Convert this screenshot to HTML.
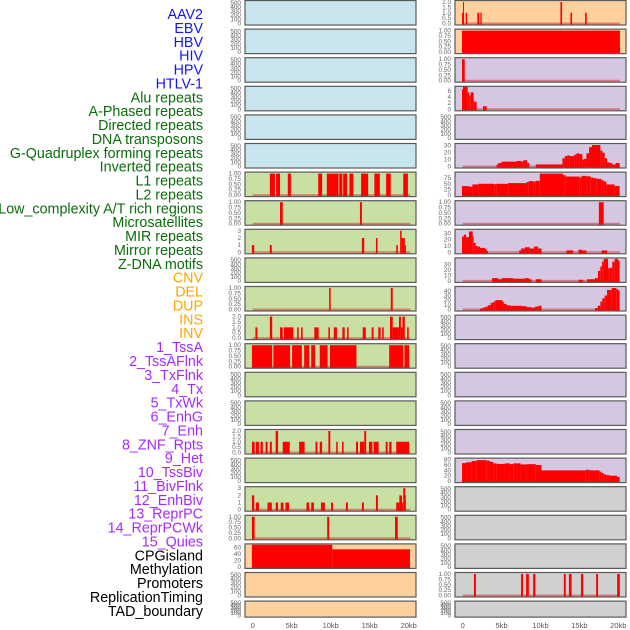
<!DOCTYPE html>
<html><head><meta charset="utf-8"><style>
html,body{margin:0;padding:0;background:#fff;}
svg{display:block;font-family:"Liberation Sans",sans-serif;}
</style></head><body>
<svg id="chart" width="630" height="630" viewBox="0 0 630 630"></svg>
<script>
const labelNames=["AAV2","EBV","HBV","HIV","HPV","HTLV-1","Alu repeats","A-Phased repeats","Directed repeats","DNA transposons","G-Quadruplex forming repeats","Inverted repeats","L1 repeats","L2 repeats","Low_complexity A/T rich regions","Microsatellites","MIR repeats","Mirror repeats","Z-DNA motifs","CNV","DEL","DUP","INS","INV","1_TssA","2_TssAFlnk","3_TxFlnk","4_Tx","5_TxWk","6_EnhG","7_Enh","8_ZNF_Rpts","9_Het","10_TssBiv","11_BivFlnk","12_EnhBiv","13_ReprPC","14_ReprPCWk","15_Quies","CPGisland","Methylation","Promoters","ReplicationTiming","TAD_boundary"];
const labelGroups=[6,13,5,15,5];
const groupColors=["#1414ff","#0a6e0a","#ffa500","#a52aff","#000000"];
const xTicks=[0,5,10,15,20];
const xTickLabels=["0","5kb","10kb","15kb","20kb"];

// left column data [startKb,endKb,value]
const leftL1=[[2.2,2.85,1],[3.0,3.5,1],[4.5,4.9,1],[8.4,8.9,1],[9.5,11.0,1],[11.1,11.5,1],[11.6,12.1,1],[12.4,12.9,1],[13.9,14.8,1],[15.6,16.3,1],[17.1,17.7,1],[19.3,19.9,1]];
const leftLowComp=[[3.5,3.85,1],[13.75,14.0,1]];
const leftMIR=[[-0.1,0.2,1],[2.2,2.45,1],[14.0,14.3,2],[15.8,16.0,2],[18.4,18.6,1],[18.9,19.1,3],[19.1,19.5,2],[19.5,19.65,1]];
const leftCNV=[[9.8,10.0,1],[17.7,17.95,1]];
const leftINS=[[0.35,0.6,1],[2.2,2.5,2],[3.5,3.85,1],[4.0,5.2,1],[5.7,5.9,1],[6.2,6.4,1],[7.9,8.45,1],[9.7,9.9,1],[10.4,10.8,1],[11.5,11.8,1],[12.1,12.3,1],[14.1,14.5,1],[15.25,15.5,1],[16.1,16.4,1],[16.6,16.8,1],[17.6,17.95,2],[17.95,18.75,1],[18.75,19.0,2],[19.0,19.2,1],[19.2,19.5,2],[19.8,20.0,1]];
const leftTssA=[[-0.1,2.5,1],[2.65,4.8,1],[5.05,6.3,1],[6.6,7.25,1],[7.5,8.0,1],[8.6,9.6,1],[9.9,13.3,1],[17.5,19.3,1],[19.45,20.05,1]];
const leftEnhG=[[-0.1,0.25,1],[0.4,0.8,1],[1.0,1.3,1],[1.65,1.9,1],[2.2,2.45,1],[2.95,3.25,2],[3.85,4.75,1],[5.95,6.65,1],[8.05,8.3,1],[8.6,8.9,1],[9.7,9.95,2],[10.7,10.9,1],[11.45,11.65,1],[13.25,13.5,1],[13.75,14.3,1],[14.3,14.55,2],[14.9,15.35,1],[15.5,16.15,1],[17.05,17.3,1],[17.5,17.8,1],[18.4,20.05,1]];
const leftTssBiv=[[-0.1,0.2,2],[0.4,0.8,1],[1.9,2.2,1],[2.2,2.45,1],[2.95,3.25,1],[3.6,3.95,1],[4.2,4.65,1],[6.9,7.25,1],[7.5,7.85,1],[8.75,9.25,1],[10.05,10.3,1],[11.95,12.2,1],[14.0,14.25,1],[15.8,16.05,2],[18.4,18.8,1],[18.8,19.15,2],[19.15,19.3,1],[19.3,19.55,3],[19.55,19.65,2]];
const leftReprPC=[[-0.1,0.25,1],[9.55,9.8,1],[18.25,18.6,1]];
const leftCpG=[[-0.1,10.2,68],[10.2,20.17,54]];
// right column data
const rightAAV=[[-0.09,0.04,1],[0.04,0.17,2],[0.39,0.56,1],[1.88,2.14,1],[2.27,2.44,1],[12.56,12.77,2],[13.85,14.06,1],[15.73,15.94,1]];
const rightEBV=[[-0.09,20.21,1]];
const rightHBV=[[-0.09,0.26,1]];
const rightHIV=[[-0.09,0.04,6.5],[0.04,0.64,7.5],[0.64,0.85,5.5],[0.85,1.03,4.5],[1.03,1.41,5.5],[1.41,1.79,2.5],[2.61,3.08,1]];
const rightGQuad=[[4.36,4.57,3],[4.57,5.0,5],[5.0,6.92,7],[6.92,7.56,8],[7.56,7.78,7],[7.78,8.29,9],[8.29,8.55,5],[9.4,12.82,3],[12.82,13.12,12],[13.12,13.42,15],[13.42,13.76,16],[13.76,14.32,15],[14.32,14.62,17],[14.62,14.96,19],[14.96,15.38,18],[15.38,15.6,10],[15.6,15.9,11],[15.9,16.24,19],[16.24,16.62,28],[16.62,17.69,31],[17.69,17.95,23],[17.95,18.25,20],[18.25,18.55,12],[18.55,18.89,6],[18.89,19.23,5],[19.23,19.66,3],[19.66,20.17,5]];
const rightL1=[[-0.09,0.81,40],[0.81,1.24,37],[1.24,2.01,47],[2.01,4.06,50],[4.06,4.36,48],[4.36,5.85,50],[5.85,8.21,53],[8.21,8.5,58],[8.5,9.06,62],[9.06,9.4,60],[9.4,9.91,63],[9.91,12.9,95],[12.9,13.25,88],[13.25,15.04,82],[15.04,15.26,78],[15.26,15.9,85],[15.9,16.45,83],[16.45,16.75,78],[16.75,17.18,75],[17.18,17.82,72],[17.82,18.12,66],[18.12,18.46,60],[18.46,19.53,47],[19.53,20.17,40]];
const rightLowComp=[[17.5,18.12,1]];
const rightMIR=[[-0.09,0.17,25],[0.17,0.43,28],[0.43,0.81,24],[0.81,1.28,33],[1.28,1.41,25],[1.41,1.67,15],[1.67,1.92,10],[1.92,2.22,9],[2.22,2.86,7],[2.86,3.08,5],[3.08,3.25,2],[7.26,7.52,3],[7.52,7.99,6],[7.99,8.63,8],[8.63,9.15,6],[9.15,9.7,9],[9.7,10.13,6],[13.33,14.19,3],[14.87,15.38,4],[15.38,15.9,3],[17.86,18.55,3]];
const rightMirror=[[3.76,4.57,5],[4.57,5.0,3],[5.0,6.5,5],[6.5,7.99,4],[7.99,8.55,5],[8.55,8.85,3],[9.4,10.13,3],[14.91,15.47,2],[15.98,16.97,3],[16.97,17.39,5],[17.39,17.69,18],[17.69,17.91,26],[17.91,18.12,35],[18.12,18.68,40],[18.68,18.89,23],[18.89,19.23,24],[19.23,19.53,35],[19.53,19.96,40],[19.96,20.17,37]];
const rightZDNA=[[2.22,2.56,2],[2.56,2.91,4],[2.91,3.21,6],[3.21,3.59,9],[3.59,3.93,14],[3.93,4.19,17],[4.19,5.13,20],[5.13,5.3,16],[5.3,5.64,12],[5.64,6.07,9],[6.07,7.56,8],[7.56,8.21,7],[8.21,8.85,5],[8.85,9.27,4],[9.27,9.7,6],[9.7,10.13,8],[17.01,17.35,3],[17.35,17.69,8],[17.69,17.95,17],[17.95,18.25,24],[18.25,18.55,30],[18.55,19.15,42],[19.15,19.74,46],[19.74,19.96,44],[19.96,20.17,41]];
const rightHet=[[-0.09,0.43,67],[0.43,1.15,70],[1.15,1.79,75],[1.79,3.08,78],[3.08,3.5,76],[3.5,3.93,72],[3.93,4.36,66],[4.36,5.43,64],[5.43,6.07,66],[6.07,6.5,63],[6.5,7.44,66],[7.44,8.21,62],[8.21,9.4,63],[9.4,10.13,60],[10.13,15.81,40],[15.81,16.32,42],[16.32,17.61,40],[17.61,17.86,35],[17.86,18.12,30],[18.12,18.46,25],[18.46,18.89,22],[18.89,19.83,20],[19.83,20.17,16]];
const rightPromoters=[[1.45,1.7,1],[7.5,7.75,1],[8.15,8.5,1],[9.05,9.35,1],[13.0,13.25,1],[13.65,14.0,1],[15.2,15.5,1],[17.15,17.4,1],[19.85,20.2,1]];

const EMPTY={ymax:520,ticks:[0,100,200,300,400,500],labels:["0","100","200","300","400","500"]};
const BIN={ymax:1,ticks:[0,0.25,0.5,0.75,1],labels:["0.00","0.25","0.50","0.75","1.00"]};
const BG={b:"#c8e4ec",g:"#c8e0a4",o:"#fdd09d",l:"#d5c7e2",k:"#d0d0d0"};
const leftCol=["b","b","b","b","b","b","g","g","g","g","g","g","g","g","g","g","g","g","g","o","o","o"];
const rightCol=["o","o","l","l","l","l","l","l","l","l","l","l","l","l","l","l","l","k","k","k","k","k"];
const leftData={6:[leftL1,BIN],7:[leftLowComp,BIN],8:[leftMIR,{ymax:3,ticks:[0,1,2,3],labels:["0","1","2","3"]}],10:[leftCNV,BIN],11:[leftINS,{ymax:2,ticks:[0,0.5,1,1.5,2],labels:["0.0","0.5","1.0","1.5","2.0"]}],12:[leftTssA,BIN],15:[leftEnhG,{ymax:2,ticks:[0,0.5,1,1.5,2],labels:["0.0","0.5","1.0","1.5","2.0"]}],17:[leftTssBiv,{ymax:3,ticks:[0,1,2,3],labels:["0","1","2","3"]}],18:[leftReprPC,BIN],19:[leftCpG,{ymax:66,ticks:[0,20,40,60],labels:["0","20","40","60"]}]};
const rightData={0:[rightAAV,{ymax:2,ticks:[0,0.5,1,1.5,2],labels:["0.0","0.5","1.0","1.5","2.0"]}],1:[rightEBV,BIN],2:[rightHBV,BIN],3:[rightHIV,{ymax:7,ticks:[0,2,4,6],labels:["0","2","4","6"]}],5:[rightGQuad,{ymax:31,ticks:[0,10,20,30],labels:["0","10","20","30"]}],6:[rightL1,{ymax:95,ticks:[0,25,50,75],labels:["0","25","50","75"]}],7:[rightLowComp,BIN],8:[rightMIR,{ymax:34,ticks:[0,10,20,30],labels:["0","10","20","30"]}],9:[rightMirror,{ymax:39,ticks:[0,10,20,30],labels:["0","10","20","30"]}],10:[rightZDNA,{ymax:46,ticks:[0,10,20,30,40],labels:["0","10","20","30","40"]}],16:[rightHet,{ymax:80,ticks:[0,20,40,60,80],labels:["0","20","40","60","80"]}],20:[rightPromoters,BIN]};

const NS="http://www.w3.org/2000/svg";
const svg=document.getElementById("chart");
function mk(tag,attrs,parent){const e=document.createElementNS(NS,tag);for(const k in attrs)e.setAttribute(k,attrs[k]);(parent||svg).appendChild(e);return e;}

// row labels
let li=0;
labelGroups.forEach((n,gi)=>{for(let k=0;k<n;k++){const t=mk("text",{x:203,y:14+li*13.88+5,"text-anchor":"end","font-size":"14.3",fill:groupColors[gi]});


t.textContent=labelNames[li];li++;}});

function rowGeom(i){const top=i*28.6+0.5;const h=(i===21)?16:24.5;return {top,h};}
function drawColumn(x0,x1,zeroX,pxPerKb,cols,dataMap,side){
  const xs=kb=>zeroX+kb*pxPerKb;
  for(let i=0;i<22;i++){
    const {top,h}=rowGeom(i);
    const g=mk("g",{});
    
    
    mk("rect",{x:x0,y:top,width:x1-x0,height:h,fill:BG[cols[i]]},g);
    const d=dataMap[i];const sc=d?d[1]:EMPTY;
    const bot=top+h-1.5;const inner=h-3;
    const ys=v=>bot-v/sc.ymax*inner;
    const cid="c"+side+i;
    const cp=mk("clipPath",{id:cid},g);mk("rect",{x:x0,y:top,width:x1-x0,height:h},cp);
    if(d){
      mk("line",{x1:xs(0),x2:xs(20.2),y1:bot,y2:bot,stroke:"rgba(210,0,0,0.4)","stroke-width":2},g);
      const bg=mk("g",{"clip-path":"url(#"+cid+")"},g);
      d[0].forEach(b=>{const r=mk("rect",{x:xs(b[0]),y:ys(b[2]),width:Math.max(0.8,xs(b[1])-xs(b[0])),height:bot-ys(b[2])+1.5,fill:"#ff0000"},bg);
        
        });
    }
    mk("rect",{x:x0,y:top,width:x1-x0,height:h,fill:"none",stroke:"#5a5a5a","stroke-width":1.2},g);
    sc.ticks.forEach((tv,ti)=>{const t=mk("text",{x:x0-4,y:ys(tv)+2,"text-anchor":"end","font-size":"6.4",fill:"#666"},g);
      
      
      t.textContent=sc.labels[ti];});
  }
  xTicks.forEach((v,i)=>{const t=mk("text",{x:xs(v),y:628,"text-anchor":"middle","font-size":"7.5",fill:"#555"});
    
    
    t.textContent=xTickLabels[i];});
}
drawColumn(245,416,252.7,7.8,leftCol,leftData,"left");
drawColumn(455,626,462.7,7.78,rightCol,rightData,"right");
</script>
</body></html>
